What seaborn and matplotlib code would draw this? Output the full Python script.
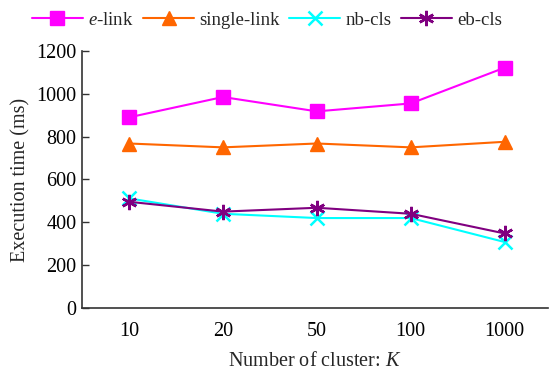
import matplotlib
matplotlib.use("Agg")
import matplotlib.pyplot as plt
import seaborn as sns
import pandas as pd

# Data
categories = ["10", "20", "50", "100", "1000"]
e_link = [890, 985, 918, 955, 1122]
single_link = [768, 750, 768, 750, 776]
nb_cls = [512, 440, 420, 420, 308]
eb_cls = [496, 450, 468, 440, 348]

series_names = ["$e$-link", "single-link", "nb-cls", "eb-cls"]
series_values = [e_link, single_link, nb_cls, eb_cls]
colors = ["#FF00FF", "#FF6600", "#00FFFF", "#800080"]
markers = ["s", "^", "x", (6, 2, 0)]
msizes = [10, 10, 10, 11]

sns.set_theme(style="ticks")
plt.rcParams["font.family"] = ["Liberation Serif", "DejaVu Serif"]
plt.rcParams["mathtext.fontset"] = "custom"
plt.rcParams["mathtext.it"] = "Liberation Serif:italic"
plt.rcParams["mathtext.rm"] = "Liberation Serif"

fig = plt.figure(figsize=(5.54, 3.72), dpi=100)
ax = fig.add_axes([0.148, 0.172, 0.841, 0.691])

pos = list(range(len(categories)))
for name, vals, c, m, ms in zip(series_names, series_values, colors, markers, msizes):
    df = pd.DataFrame({"x": pos, "y": vals})
    sns.lineplot(data=df, x="x", y="y", ax=ax, color=c, marker=m,
                 markersize=ms, linewidth=1.5, markeredgecolor=c,
                 markeredgewidth=1.8 if (m == "x" or isinstance(m, tuple)) else 1,
                 label=name, legend=False)

ax.set_xlim(-0.5, 4.46)
ax.set_ylim(0, 1200)
ax.set_yticks(range(0, 1201, 200))
ax.set_xticks(pos)
ax.set_xticklabels(categories)
ax.tick_params(axis="y", direction="in", length=5, width=1, labelsize=14.5, pad=4)
ax.tick_params(axis="x", length=0, labelsize=14.5, pad=10)
for s in ["top", "right"]:
    ax.spines[s].set_visible(False)
for s in ["left", "bottom"]:
    ax.spines[s].set_color("#333333")
    ax.spines[s].set_linewidth(1.2)
ax.tick_params(axis="y", colors="#333333", labelcolor="black")
ax.tick_params(axis="x", labelcolor="black")

ax.set_xlabel("Number of cluster: $K$", fontsize=14.5, labelpad=8)
ax.set_ylabel("Execution time (ms)", fontsize=14.5, labelpad=4)

h, l = ax.get_legend_handles_labels()
fig.legend(h, l, loc="center", bbox_to_anchor=(0.482, 0.945), ncol=4,
           frameon=False, fontsize=13.5, handlelength=2.7, handletextpad=0.3,
           columnspacing=0.5)

fig.savefig("out.png", dpi=100)
